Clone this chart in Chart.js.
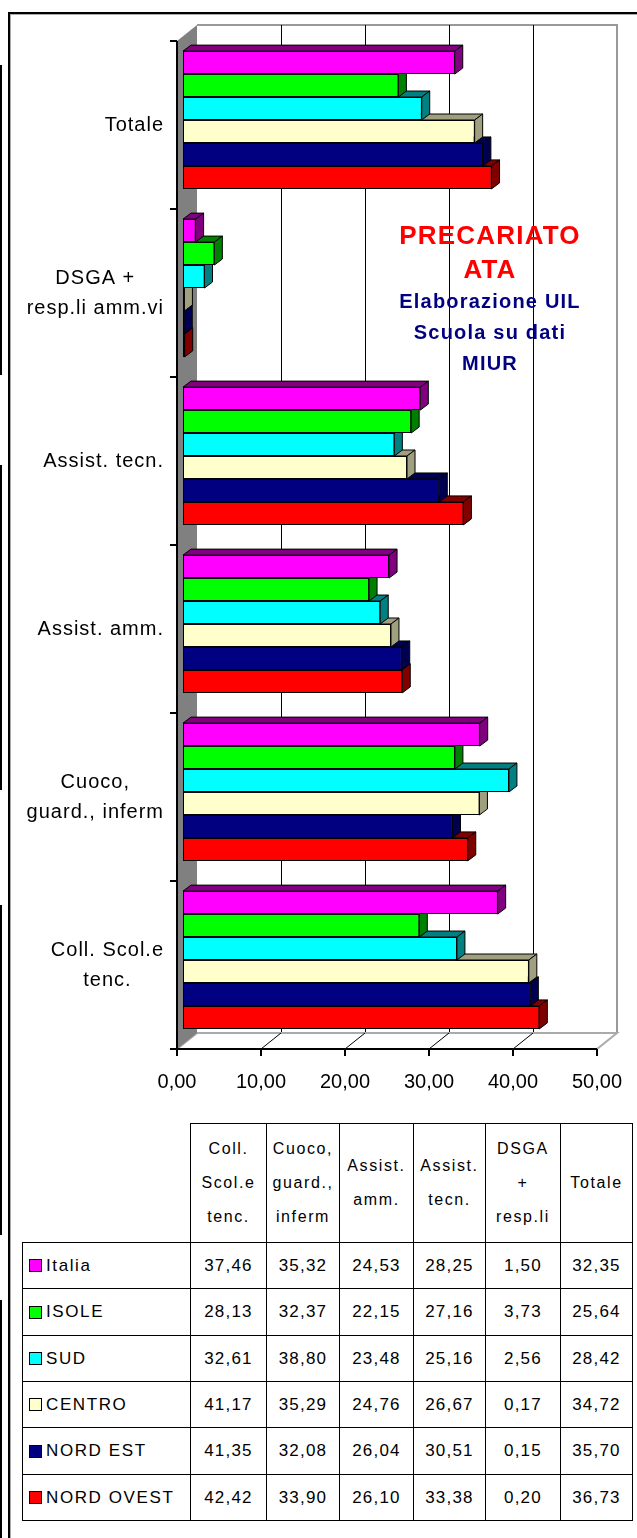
<!DOCTYPE html>
<html>
<head>
<meta charset="utf-8">
<script src="https://cdn.jsdelivr.net/npm/chart.js@4.4.1/dist/chart.umd.min.js"></script>
<style>
html, body { margin:0; padding:0; background:#fff; }
body { width:637px; height:1538px; position:relative; overflow:hidden; font-family:"Liberation Sans", Arial, sans-serif; }
#frame { position:absolute; left:8px; top:12px; width:700px; height:1600px; border-left:2px solid #000; border-top:2px solid #000; box-shadow: inset 1px 1px 0 #aaa; }
.edge { position:absolute; left:0; width:2px; background:#000; }
#chart { position:absolute; left:0; top:0; }
.cell { position:absolute; box-sizing:border-box; border:1px solid #000; display:flex; align-items:center; justify-content:center; text-align:center; color:#000; background:#fff; }
.head { font-size:16px; line-height:34px; letter-spacing:1.6px; }
.num { font-size:17px; letter-spacing:1.2px; }
.name { justify-content:flex-start; font-size:17px; letter-spacing:1.6px; padding-left:6px; }
.sw { display:inline-block; width:11px; height:11px; border:1px solid #000; margin-right:4px; }
</style>
</head>
<body>
<div id="frame"></div>
<div class="edge" style="top:65px;height:310px"></div>
<div class="edge" style="top:465px;height:325px"></div>
<div class="edge" style="top:905px;height:330px"></div>
<div class="edge" style="top:1300px;height:238px"></div>
<canvas id="chart" width="637" height="1110"></canvas>
<div id="table"></div>
<script>
// categories in table order (chart shows them bottom-up)
const categories = [['Coll. Scol.e', 'tenc.'], ['Cuoco,', 'guard., inferm'], 'Assist. amm.', 'Assist. tecn.', ['DSGA +', 'resp.li amm.vi'], 'Totale'];
const tableHeads = [['Coll.', 'Scol.e', 'tenc.'], ['Cuoco,', 'guard.,', 'inferm'], ['Assist.', 'amm.'], ['Assist.', 'tecn.'], ['DSGA', '+', 'resp.li'], ['Totale']];
const regions = ['Italia', 'ISOLE', 'SUD', 'CENTRO', 'NORD EST', 'NORD OVEST'];

const italia    = [37.46, 35.32, 24.53, 28.25, 1.50, 32.35];
const isole     = [28.13, 32.37, 22.15, 27.16, 3.73, 25.64];
const sud       = [32.61, 38.80, 23.48, 25.16, 2.56, 28.42];
const centro    = [41.17, 35.29, 24.76, 26.67, 0.17, 34.72];
const nordEst   = [41.35, 32.08, 26.04, 30.51, 0.15, 35.70];
const nordOvest = [42.42, 33.90, 26.10, 33.38, 0.20, 36.73];
const series = [italia, isole, sud, centro, nordEst, nordOvest];

const xTicks = [0, 10, 20, 30, 40, 50];
const title = ['PRECARIATO', 'ATA'];
const subtitle = ['Elaborazione UIL', 'Scuola su dati', 'MIUR'];

const faceColors = ['#ff00ff', '#00ff00', '#00ffff', '#ffffcc', '#000080', '#ff0000'];
const sideColors = ['#800080', '#008000', '#008080', '#a0a080', '#000050', '#800000'];

// 3d offsets relative to the bar plane
const FRONT = {dx: -6, dy: 5}, BACK = {dx: 14, dy: -11}, DEPTH = {dx: 8, dy: 6};

const fmt = v => v.toFixed(2).replace('.', ',');

function poly(ctx, pts, fill, stroke) {
    ctx.beginPath();
    ctx.moveTo(pts[0][0], pts[0][1]);
    pts.slice(1).forEach(p => ctx.lineTo(p[0], p[1]));
    ctx.closePath();
    if (fill) { ctx.fillStyle = fill; ctx.fill(); }
    if (stroke) { ctx.strokeStyle = stroke; ctx.stroke(); }
}
function seg(ctx, x1, y1, x2, y2) {
    ctx.beginPath(); ctx.moveTo(x1, y1); ctx.lineTo(x2, y2); ctx.stroke();
}

const box3d = {
    id: 'box3d',
    beforeDatasetsDraw(chart) {
        const ctx = chart.ctx, xs = chart.scales.x, ys = chart.scales.y;
        const L = xs.getPixelForValue(xTicks[0]), R = xs.getPixelForValue(xTicks[xTicks.length - 1]);
        const T = ys.top, B = ys.bottom;
        ctx.save();
        // back wall
        ctx.lineWidth = 2;
        ctx.strokeStyle = '#999';
        ctx.beginPath();
        ctx.moveTo(L + BACK.dx, T + BACK.dy);
        ctx.lineTo(R + BACK.dx, T + BACK.dy);
        ctx.lineTo(R + BACK.dx, B + BACK.dy);
        ctx.stroke();
        ctx.lineWidth = 1;
        ctx.strokeStyle = '#000';
        xTicks.slice(1, -1).forEach(v => {
            const x = Math.round(xs.getPixelForValue(v) + BACK.dx) + 0.5;
            seg(ctx, x, T + BACK.dy, x, B + BACK.dy);
        });
        // floor
        ctx.lineWidth = 2;
        poly(ctx, [[L + FRONT.dx, B + FRONT.dy], [R + FRONT.dx, B + FRONT.dy], [R + BACK.dx, B + BACK.dy], [L + BACK.dx, B + BACK.dy]], '#fff', '#aaa');
        ctx.lineWidth = 1;
        ctx.strokeStyle = '#000';
        xTicks.slice(1, -1).forEach(v => {
            const x = xs.getPixelForValue(v);
            seg(ctx, x + FRONT.dx, B + FRONT.dy, x + BACK.dx, B + BACK.dy);
        });
        // left wall
        poly(ctx, [[L + FRONT.dx, T + FRONT.dy], [L + BACK.dx, T + BACK.dy], [L + BACK.dx, B + BACK.dy], [L + FRONT.dx, B + FRONT.dy]], '#808080', null);
        // front axes
        ctx.lineWidth = 2;
        ctx.strokeStyle = '#000';
        seg(ctx, L + FRONT.dx, T + FRONT.dy, L + FRONT.dx, B + FRONT.dy + 1);
        seg(ctx, L + FRONT.dx - 7, B + FRONT.dy, R + FRONT.dx, B + FRONT.dy);
        const n = categories.length, band = (B - T) / n;
        for (let i = 0; i <= n; i++) {
            const y = T + i * band + FRONT.dy;
            seg(ctx, L + FRONT.dx - 7, y, L + FRONT.dx, y);
        }
        xTicks.forEach(v => {
            const x = xs.getPixelForValue(v) + FRONT.dx;
            seg(ctx, x, B + FRONT.dy, x, B + FRONT.dy + 7);
        });
        ctx.restore();
    },
    afterDatasetsDraw(chart) {
        const ctx = chart.ctx;
        ctx.save();
        ctx.lineWidth = 1;
        const nd = chart.data.datasets.length;
        for (let c = 0; c < categories.length; c++) {
            for (let d = nd - 1; d >= 0; d--) {
                const bar = chart.getDatasetMeta(d).data[c];
                const p = bar.getProps(['x', 'y', 'base', 'height'], true);
                const top = p.y - p.height / 2, bot = p.y + p.height / 2;
                poly(ctx, [[p.base, top], [p.x, top], [p.x + DEPTH.dx, top - DEPTH.dy], [p.base + DEPTH.dx, top - DEPTH.dy]], sideColors[d], '#000');
                poly(ctx, [[p.x, top], [p.x + DEPTH.dx, top - DEPTH.dy], [p.x + DEPTH.dx, bot - DEPTH.dy], [p.x, bot]], sideColors[d], '#000');
                bar.draw(ctx);
            }
        }
        ctx.restore();
    },
    afterDraw(chart) {
        const ctx = chart.ctx, ys = chart.scales.y, xs = chart.scales.x;
        ctx.save();
        // category labels: block right aligned, lines centred in block
        ctx.font = '20px "Liberation Sans", Arial, sans-serif';
        ctx.letterSpacing = '1px';
        ctx.fillStyle = '#000';
        ctx.textAlign = 'center';
        ctx.textBaseline = 'middle';
        const right = xs.getPixelForValue(0) - 19;
        categories.forEach((lab, i) => {
            const lines = Array.isArray(lab) ? lab : [lab];
            const w = Math.max(...lines.map(s => ctx.measureText(s).width));
            const yc = ys.getPixelForValue(i) + FRONT.dy;
            lines.forEach((s, j) => ctx.fillText(s, right - w / 2, yc + (j - (lines.length - 1) / 2) * 30));
        });
        // title inside the plot
        const cx = 490;
        ctx.letterSpacing = '1.2px';
        ctx.fillStyle = '#ff0000';
        ctx.font = 'bold 26px "Liberation Sans", Arial, sans-serif';
        title.forEach((s, j) => ctx.fillText(s, cx, 237 + j * 34));
        ctx.fillStyle = '#000080';
        ctx.font = 'bold 20px "Liberation Sans", Arial, sans-serif';
        subtitle.forEach((s, j) => ctx.fillText(s, cx, 302 + j * 31));
        ctx.restore();
    }
};

new Chart(document.getElementById('chart'), {
    type: 'bar',
    data: {
        labels: categories,
        datasets: series.map((vals, i) => ({
            label: regions[i],
            data: vals,
            backgroundColor: faceColors[i],
            borderColor: '#000',
            borderWidth: 1,
            borderSkipped: false,
            categoryPercentage: 0.82,
            barPercentage: 1
        }))
    },
    options: {
        indexAxis: 'y',
        responsive: false,
        animation: false,
        devicePixelRatio: 1,
        layout: { padding: { top: 36, right: 34, left: 0, bottom: 0 } },
        plugins: { legend: { display: false }, tooltip: { enabled: false } },
        scales: {
            y: {
                reverse: true,
                grid: { display: false },
                border: { display: false },
                ticks: { display: false },
                afterFit: s => { s.width = 183; }
            },
            x: {
                min: 0, max: 50,
                afterBuildTicks: s => { s.ticks = xTicks.map(v => ({value: v})); },
                grid: { display: false },
                border: { display: false },
                ticks: {
                    color: '#000',
                    font: { family: '"Liberation Sans", Arial, sans-serif', size: 20 },
                    padding: 18,
                    labelOffset: -6,
                    maxRotation: 0,
                    callback: v => fmt(v)
                },
                afterFit: s => { s.height = 66; s.paddingLeft = 0; s.paddingRight = 0; }
            }
        }
    },
    plugins: [box3d]
});

// data table under the chart
const colX = [190, 266, 339, 413, 485, 560, 632];
const nameX = 22;
const headTop = 1123, bodyTop = 1242, rowH = 46.3;
const tbl = document.getElementById('table');
function cell(x, y, w, h, cls, html) {
    const d = document.createElement('div');
    d.className = 'cell ' + cls;
    d.style.left = x + 'px'; d.style.top = y + 'px';
    d.style.width = (w + 1) + 'px'; d.style.height = (h + 1) + 'px';
    d.innerHTML = html;
    tbl.appendChild(d);
}
tableHeads.forEach((h, c) => {
    cell(colX[c], headTop, colX[c + 1] - colX[c], bodyTop - headTop, 'head', h.join('<br>'));
});
regions.forEach((r, i) => {
    const y = Math.round(bodyTop + i * rowH);
    const h = Math.round(bodyTop + (i + 1) * rowH) - y;
    cell(nameX, y, colX[0] - nameX, h, 'name', '<span class="sw" style="background:' + faceColors[i] + '"></span>' + r);
    series[i].forEach((v, c) => cell(colX[c], y, colX[c + 1] - colX[c], h, 'num', fmt(v)));
});
</script>
</body>
</html>
